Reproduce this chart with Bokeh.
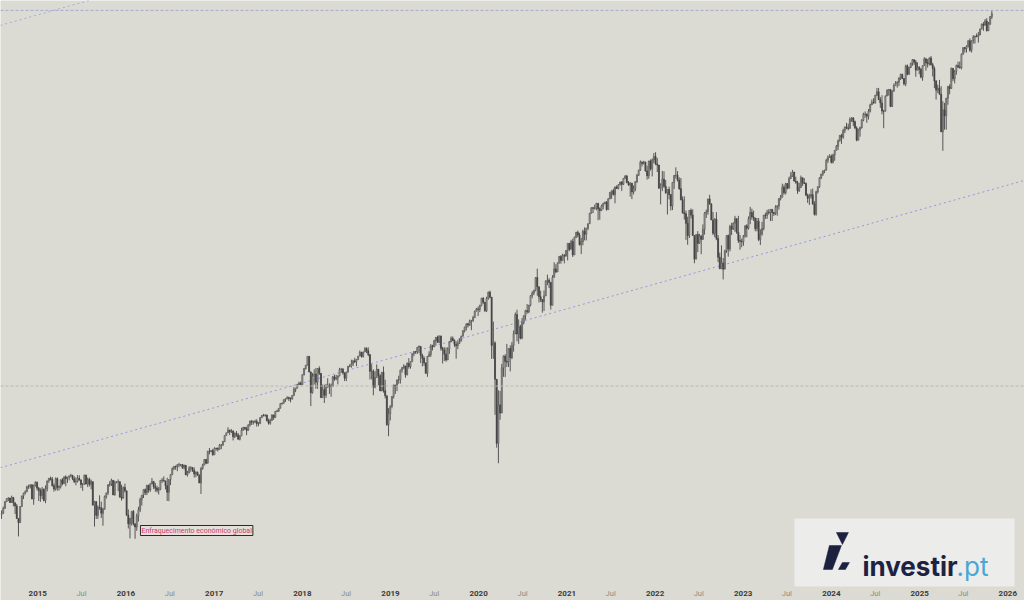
import math
import numpy as np
import pandas as pd
from bokeh.plotting import figure
from bokeh.models import Range1d, Label, Span, ColumnDataSource
from bokeh.core.properties import value
from bokeh.embed import file_html
from bokeh.resources import INLINE

# ---------------- data: S&P 500 weekly candles (week starting Monday) ----------------
first_week = "2014-08-04"
first_open = 1925

close_2014 = [1931, 1955, 1988, 2003, 2007, 1985, 2010, 1982, 1967, 1906, 1886, 1964, 2018, 2032, 2039, 2064, 2067, 2075, 2002, 2070, 2088]
high_2014 = [1945, 1964, 1991, 2005, 2011, 2008, 2019, 2011, 1986, 1977, 1906, 1966, 2018, 2034, 2046, 2071, 2076, 2079, 2077, 2077, 2094]
low_2014 = [1904, 1928, 1953, 1990, 1991, 1982, 1983, 1965, 1927, 1905, 1821, 1885, 1967, 2002, 2025, 2040, 2054, 2056, 2001, 1973, 2066]

close_2015 = [2058, 2044, 2019, 2051, 1995, 2055, 2096, 2110, 2104, 2071, 2053, 2108, 2061, 2067, 2102, 2081, 2117,
              2108, 2116, 2123, 2126, 2107, 2092, 2094, 2110, 2101, 2077, 2077, 2127, 2080, 2104, 2078, 2092, 1971,
              1989, 1921, 1961, 1958, 1931, 1951, 2015, 2033, 2075, 2079, 2099, 2023, 2089, 2090, 2092, 2012, 2006, 2061]
high_2015 = [2093, 2064, 2057, 2064, 2057, 2072, 2097, 2110, 2119, 2117, 2082, 2114, 2114, 2072, 2102, 2111, 2120,
             2126, 2117, 2123, 2134, 2126, 2121, 2115, 2127, 2126, 2103, 2085, 2129, 2129, 2114, 2113, 2103, 2090,
             1993, 1976, 1970, 2021, 1989, 1958, 2020, 2034, 2079, 2094, 2108, 2099, 2097, 2094, 2104, 2081, 2076, 2067]
low_2015 = [2046, 1992, 1988, 2002, 1990, 1981, 2041, 2086, 2098, 2066, 2040, 2045, 2045, 2045, 2056, 2073, 2082,
            2068, 2085, 2099, 2115, 2100, 2085, 2073, 2087, 2097, 2058, 2044, 2077, 2077, 2063, 2067, 2052, 1971,
            1867, 1903, 1904, 1948, 1908, 1871, 1949, 2004, 2023, 2066, 2069, 2022, 2019, 2083, 2042, 2008, 1994, 2005]

close_2016 = [2044, 1922, 1880, 1907, 1940, 1880, 1865, 1918, 1948, 2000, 2022, 2050, 2035, 2073, 2048, 2081, 2092,
              2065, 2057, 2047, 2052, 2099, 2099, 2096, 2071, 2037, 2103, 2130, 2162, 2175, 2173, 2183, 2184, 2184,
              2169, 2180, 2128, 2139, 2165, 2168, 2153, 2133, 2141, 2126, 2085, 2164, 2182, 2213, 2192, 2259, 2258, 2263, 2239]
high_2016 = [2082, 2038, 1950, 1908, 1940, 1947, 1881, 1930, 1963, 2009, 2022, 2052, 2056, 2075, 2075, 2083, 2111,
             2096, 2085, 2071, 2064, 2100, 2111, 2120, 2096, 2113, 2104, 2132, 2169, 2176, 2178, 2187, 2194, 2188,
             2187, 2185, 2182, 2150, 2175, 2175, 2169, 2169, 2148, 2147, 2131, 2170, 2189, 2214, 2214, 2262, 2278, 2267, 2273]
low_2016 = [2035, 1918, 1858, 1812, 1872, 1872, 1810, 1847, 1891, 1937, 1969, 2007, 2022, 2022, 2034, 2039, 2078,
            2053, 2039, 2035, 2025, 2047, 2085, 2092, 2051, 1992, 1991, 2074, 2126, 2154, 2156, 2148, 2169, 2175,
            2160, 2157, 2127, 2119, 2137, 2145, 2144, 2114, 2115, 2125, 2084, 2028, 2156, 2181, 2187, 2191, 2241, 2253, 2234]

close_2017 = [2277, 2275, 2271, 2295, 2297, 2316, 2351, 2367, 2383, 2373, 2378, 2344, 2363, 2355, 2329, 2349, 2384,
              2399, 2391, 2382, 2416, 2439, 2432, 2433, 2438, 2423, 2425, 2459, 2473, 2472, 2477, 2441, 2426, 2443,
              2477, 2461, 2500, 2502, 2519, 2549, 2553, 2575, 2581, 2588, 2582, 2579, 2602, 2642, 2652, 2675, 2684, 2674]
high_2017 = [2282, 2279, 2282, 2301, 2299, 2319, 2352, 2368, 2401, 2386, 2390, 2382, 2370, 2378, 2366, 2352, 2398,
             2404, 2403, 2405, 2418, 2441, 2446, 2441, 2447, 2450, 2433, 2463, 2477, 2484, 2481, 2475, 2454, 2454,
             2480, 2474, 2500, 2509, 2520, 2552, 2555, 2575, 2582, 2597, 2594, 2590, 2605, 2658, 2652, 2680, 2695, 2695]
low_2017 = [2245, 2263, 2258, 2268, 2271, 2289, 2312, 2352, 2367, 2354, 2366, 2322, 2336, 2344, 2328, 2322, 2349,
            2379, 2386, 2353, 2386, 2405, 2415, 2417, 2426, 2405, 2407, 2420, 2459, 2468, 2466, 2437, 2417, 2417,
            2444, 2446, 2459, 2495, 2495, 2520, 2542, 2547, 2560, 2577, 2566, 2557, 2575, 2601, 2624, 2649, 2672, 2673]

close_2018 = [2743, 2786, 2810, 2873, 2762, 2620, 2732, 2747, 2691, 2786, 2752, 2588, 2641, 2604, 2656, 2670, 2670,
              2663, 2728, 2713, 2721, 2735, 2779, 2780, 2755, 2718, 2760, 2801, 2802, 2819, 2840, 2833, 2850, 2875,
              2902, 2872, 2905, 2930, 2914, 2886, 2767, 2768, 2658, 2723, 2781, 2736, 2633, 2760, 2633, 2600, 2417, 2486]
high_2018 = [2743, 2787, 2810, 2873, 2872, 2764, 2754, 2780, 2790, 2786, 2802, 2742, 2675, 2674, 2680, 2718, 2683,
             2682, 2733, 2742, 2742, 2736, 2791, 2790, 2790, 2760, 2764, 2805, 2816, 2849, 2848, 2863, 2854, 2876,
             2916, 2907, 2907, 2941, 2940, 2939, 2881, 2816, 2780, 2766, 2815, 2775, 2747, 2760, 2800, 2708, 2601, 2520]
low_2018 = [2682, 2737, 2779, 2808, 2759, 2533, 2615, 2675, 2647, 2647, 2741, 2586, 2594, 2553, 2586, 2660, 2612,
            2594, 2660, 2701, 2704, 2676, 2731, 2755, 2743, 2699, 2698, 2759, 2795, 2792, 2804, 2826, 2802, 2853,
            2875, 2864, 2864, 2904, 2897, 2874, 2710, 2710, 2603, 2650, 2722, 2670, 2631, 2631, 2621, 2583, 2409, 2347]

close_2019 = [2532, 2596, 2671, 2665, 2707, 2708, 2776, 2793, 2804, 2743, 2822, 2800, 2834, 2893, 2907, 2905, 2940,
              2946, 2881, 2860, 2826, 2752, 2873, 2887, 2950, 2942, 2990, 3014, 2977, 3026, 2932, 2919, 2889, 2847,
              2926, 2979, 3007, 2992, 2962, 2952, 2970, 2986, 3023, 3067, 3093, 3120, 3110, 3141, 3146, 3169, 3221, 3240]
high_2019 = [2538, 2598, 2675, 2674, 2708, 2736, 2776, 2794, 2816, 2804, 2830, 2860, 2837, 2893, 2911, 2909, 2940,
             2954, 2932, 2893, 2873, 2829, 2876, 2910, 2964, 2959, 2996, 3018, 3028, 3028, 3014, 2944, 2940, 2939,
             2940, 2985, 3022, 3022, 2999, 2984, 2993, 3008, 3028, 3067, 3097, 3120, 3127, 3154, 3151, 3183, 3226, 3248]
low_2019 = [2443, 2519, 2582, 2612, 2631, 2681, 2682, 2757, 2782, 2722, 2737, 2785, 2785, 2835, 2874, 2892, 2890,
            2898, 2825, 2801, 2805, 2751, 2728, 2868, 2869, 2916, 2951, 2952, 2975, 2970, 2914, 2822, 2840, 2834,
            2846, 2891, 2979, 2986, 2942, 2856, 2926, 2964, 2990, 3024, 3052, 3067, 3091, 3104, 3070, 3134, 3174, 3223]

close_2020 = [3235, 3265, 3330, 3295, 3226, 3328, 3380, 3338, 2954, 2972, 2711, 2305, 2541, 2489, 2790, 2875, 2837,
              2831, 2930, 2864, 2955, 3044, 3194, 3041, 3098, 3009, 3130, 3185, 3225, 3216, 3271, 3351, 3373, 3397,
              3508, 3427, 3341, 3319, 3298, 3348, 3477, 3484, 3465, 3270, 3509, 3585, 3558, 3638, 3699, 3663, 3709, 3703, 3756]
high_2020 = [3259, 3275, 3330, 3337, 3285, 3341, 3385, 3393, 3259, 3137, 2985, 2711, 2637, 2632, 2819, 2880, 2889,
             2965, 2932, 2954, 2980, 3068, 3211, 3233, 3155, 3113, 3166, 3186, 3233, 3280, 3272, 3352, 3388, 3399,
             3510, 3588, 3425, 3393, 3306, 3395, 3483, 3534, 3502, 3465, 3529, 3646, 3628, 3645, 3705, 3712, 3726, 3723, 3760]
low_2020 = [3182, 3214, 3263, 3281, 3215, 3214, 3315, 3328, 2855, 2855, 2478, 2280, 2192, 2447, 2504, 2728, 2727,
            2797, 2797, 2766, 2853, 2908, 3038, 2984, 2966, 2999, 3001, 3115, 3152, 3200, 3205, 3260, 3328, 3355,
            3387, 3350, 3293, 3297, 3209, 3223, 3354, 3440, 3416, 3234, 3280, 3511, 3546, 3558, 3635, 3633, 3672, 3636, 3700]

close_2021 = [3825, 3768, 3841, 3714, 3887, 3934, 3907, 3811, 3842, 3943, 3913, 3975, 4020, 4129, 4185, 4180, 4181,
              4233, 4174, 4156, 4204, 4230, 4247, 4166, 4281, 4352, 4370, 4327, 4412, 4395, 4437, 4468, 4442, 4509,
              4535, 4459, 4433, 4455, 4357, 4391, 4471, 4545, 4605, 4697, 4683, 4698, 4595, 4538, 4712, 4620, 4725, 4766]
high_2021 = [3826, 3815, 3859, 3870, 3889, 3937, 3950, 3929, 3879, 3960, 3983, 3978, 4021, 4130, 4191, 4195, 4219,
             4238, 4219, 4190, 4219, 4239, 4249, 4257, 4287, 4356, 4372, 4393, 4415, 4430, 4441, 4469, 4478, 4513,
             4546, 4549, 4479, 4466, 4436, 4429, 4476, 4560, 4608, 4719, 4708, 4715, 4705, 4657, 4714, 4731, 4741, 4808]
low_2021 = [3663, 3750, 3768, 3695, 3725, 3875, 3884, 3805, 3723, 3806, 3854, 3853, 3955, 4018, 4124, 4130, 4167,
            4159, 4056, 4061, 4154, 4168, 4224, 4156, 4164, 4278, 4281, 4318, 4233, 4390, 4385, 4429, 4368, 4433,
            4500, 4456, 4427, 4305, 4278, 4330, 4365, 4456, 4537, 4595, 4647, 4670, 4586, 4495, 4504, 4599, 4531, 4685]

close_2022 = [4677, 4663, 4398, 4432, 4501, 4419, 4349, 4385, 4329, 4204, 4463, 4543, 4546, 4488, 4393, 4272, 4132,
              4123, 4024, 3901, 4158, 4109, 3901, 3675, 3912, 3825, 3899, 3863, 3962, 4130, 4145, 4280, 4228, 4058,
              3924, 4067, 3873, 3693, 3586, 3640, 3583, 3753, 3901, 3771, 3993, 3965, 4026, 4072, 3934, 3852, 3845, 3840]
high_2022 = [4818, 4749, 4665, 4453, 4595, 4590, 4490, 4385, 4416, 4299, 4465, 4546, 4637, 4593, 4521, 4513, 4308,
             4308, 4156, 4091, 4158, 4178, 4169, 3838, 3913, 3946, 3918, 3882, 4013, 4140, 4167, 4281, 4325, 4203,
             4141, 4077, 4139, 3906, 3736, 3806, 3686, 3764, 3907, 3912, 4009, 4028, 4034, 4101, 4051, 4101, 3906, 3872]
low_2022 = [4662, 4582, 4395, 4222, 4366, 4401, 4335, 4115, 4275, 4157, 4161, 4390, 4507, 4474, 4381, 4265, 4124,
            4062, 3859, 3811, 3877, 4074, 3900, 3637, 3718, 3741, 3820, 3721, 3904, 3911, 4079, 4112, 4218, 4057,
            3906, 3886, 3856, 3647, 3585, 3585, 3491, 3590, 3734, 3698, 3748, 3906, 3956, 3939, 3918, 3828, 3764, 3788]

close_2023 = [3895, 3999, 3973, 4071, 4136, 4090, 4079, 3970, 4046, 3862, 3917, 3971, 4109, 4105, 4138, 4133, 4169,
              4136, 4124, 4192, 4205, 4282, 4299, 4410, 4348, 4450, 4399, 4505, 4536, 4582, 4478, 4464, 4370, 4406,
              4516, 4457, 4450, 4320, 4288, 4309, 4327, 4224, 4117, 4358, 4415, 4514, 4559, 4595, 4604, 4719, 4755, 4770]
high_2023 = [3907, 4003, 4015, 4095, 4195, 4176, 4156, 4048, 4079, 4079, 3964, 4039, 4110, 4133, 4164, 4170, 4170,
             4148, 4143, 4213, 4213, 4290, 4323, 4449, 4437, 4458, 4456, 4528, 4579, 4607, 4584, 4528, 4480, 4458,
             4541, 4518, 4512, 4465, 4339, 4336, 4386, 4394, 4256, 4370, 4418, 4522, 4560, 4599, 4609, 4739, 4778, 4793]
low_2023 = [3802, 3880, 3885, 3961, 4015, 4060, 4048, 3944, 3943, 3847, 3809, 3900, 3953, 4069, 4069, 4114, 4047,
            4048, 4099, 4109, 4103, 4166, 4264, 4302, 4328, 4328, 4385, 4393, 4514, 4527, 4474, 4448, 4335, 4356,
            4403, 4424, 4446, 4316, 4238, 4216, 4283, 4223, 4104, 4103, 4340, 4402, 4500, 4537, 4568, 4599, 4688, 4751]

close_2024 = [4697, 4784, 4840, 4891, 4959, 5027, 5006, 5089, 5137, 5124, 5117, 5234, 5254, 5204, 5123, 4967, 5100,
              5128, 5223, 5303, 5305, 5278, 5347, 5431, 5465, 5460, 5567, 5615, 5505, 5459, 5347, 5344, 5554, 5634,
              5648, 5408, 5626, 5703, 5738, 5751, 5815, 5865, 5808, 5729, 5995, 5870, 5969, 6032, 6090, 6051, 5931, 5971]
high_2024 = [4791, 4799, 4842, 4907, 4975, 5030, 5048, 5111, 5140, 5190, 5179, 5262, 5265, 5264, 5220, 5145, 5114,
             5139, 5239, 5325, 5342, 5315, 5375, 5447, 5506, 5524, 5570, 5670, 5669, 5541, 5566, 5364, 5564, 5651,
             5651, 5651, 5636, 5733, 5767, 5767, 5822, 5879, 5879, 5810, 6012, 6017, 5985, 6044, 6100, 6093, 6085, 6049]
low_2024 = [4682, 4682, 4714, 4845, 4845, 4949, 4920, 4983, 5057, 5107, 5092, 5164, 5204, 5146, 5107, 4953, 4968,
            5011, 5114, 5211, 5257, 5191, 5234, 5328, 5432, 5447, 5448, 5552, 5497, 5391, 5303, 5120, 5345, 5561,
            5560, 5403, 5406, 5615, 5704, 5674, 5696, 5784, 5797, 5706, 5696, 5853, 5861, 5963, 5996, 6010, 5832, 5933]

close_2025 = [5942, 5827, 5997, 6101, 6041, 6026, 6115, 6013, 5955, 5770, 5639, 5668, 5581, 5074, 5363, 5283, 5525,
              5687, 5660, 5958, 5803, 5912, 6000, 5977, 5968, 6173, 6279, 6260, 6297, 6389, 6238, 6389, 6450, 6467,
              6460, 6482, 6584, 6664, 6644, 6716, 6553, 6664, 6792, 6840]
high_2025 = [5993, 5964, 6003, 6128, 6120, 6101, 6127, 6147, 6043, 5987, 5783, 5716, 5786, 5695, 5482, 5460, 5528,
             5700, 5721, 5969, 5943, 5935, 6016, 6060, 6060, 6187, 6284, 6290, 6316, 6395, 6427, 6395, 6481, 6467,
             6508, 6533, 6585, 6672, 6700, 6750, 6765, 6700, 6801, 6890]
low_2025 = [5870, 5809, 5773, 6003, 5923, 5970, 6000, 6000, 5837, 5667, 5505, 5597, 5572, 5069, 4835, 5101, 5101,
            5433, 5579, 5724, 5768, 5735, 5863, 5963, 5953, 5943, 6180, 6202, 6201, 6282, 6212, 6202, 6343, 6343,
            6444, 6360, 6482, 6575, 6551, 6643, 6541, 6550, 6650, 6750]

year_labels = ["2015", "2016", "2017", "2018", "2019", "2020", "2021", "2022", "2023", "2024", "2025", "2026"]
mid_label = "Jul"

resistance_level = 6900          # horizontal dashed line (top)
support_level = 2665             # horizontal dashed line (middle)
channel_dates = ["2014-07-30", "2026-03-10"]
channel_low = [2167, 4485]       # lower dotted trend line
channel_high = [6643, 13750]     # upper parallel dotted trend line

annotation_text = "Enfraquecimento económico global"

# ---------------- assemble ----------------
closes = np.array(close_2014 + close_2015 + close_2016 + close_2017 + close_2018 + close_2019 +
                  close_2020 + close_2021 + close_2022 + close_2023 + close_2024 + close_2025, dtype=float)
highs = np.array(high_2014 + high_2015 + high_2016 + high_2017 + high_2018 + high_2019 +
                 high_2020 + high_2021 + high_2022 + high_2023 + high_2024 + high_2025, dtype=float)
lows = np.array(low_2014 + low_2015 + low_2016 + low_2017 + low_2018 + low_2019 +
                low_2020 + low_2021 + low_2022 + low_2023 + low_2024 + low_2025, dtype=float)
opens = np.concatenate([[first_open], closes[:-1]])
highs = np.maximum(highs, np.maximum(opens, closes))
lows = np.minimum(lows, np.minimum(opens, closes))
dates = pd.date_range(first_week, periods=len(closes), freq="7D")

up = closes >= opens
src_up = ColumnDataSource(dict(x=dates[up], o=opens[up], c=closes[up], h=highs[up], l=lows[up]))
src_dn = ColumnDataSource(dict(x=dates[~up], o=opens[~up], c=closes[~up], h=highs[~up], l=lows[~up]))

# ---------------- layout helpers (canvas pixel -> data) ----------------
BG = "#dcdbd3"
W, H = 1024, 600
X0_PX, PX_PER_YEAR = 37.3, 88.18      # x pixel of 1 Jan 2015, pixels per year
Y_A, Y_B = 3500.5, 394.9              # y pixel = Y_A - Y_B * ln(price)


def year_to_ms(fy):
    y = int(math.floor(fy))
    a = pd.Timestamp(year=y, month=1, day=1)
    b = pd.Timestamp(year=y + 1, month=1, day=1)
    return (a + (b - a) * (fy - y)).value / 1e6


def px_to_ms(px):
    return year_to_ms(2015 + (px - X0_PX) / PX_PER_YEAR)


def py_to_price(py):
    return math.exp((Y_A - py) / Y_B)


p = figure(width=W, height=H, output_backend="svg", toolbar_location=None,
           x_axis_type="datetime", y_axis_type="log",
           x_axis_location=None, y_axis_location=None,
           x_range=Range1d(px_to_ms(0), px_to_ms(W)),
           y_range=Range1d(py_to_price(H), py_to_price(0)),
           min_border=0, min_border_left=0, min_border_right=0,
           min_border_top=0, min_border_bottom=0)
p.background_fill_color = BG
p.border_fill_color = BG
p.outline_line_color = None
p.grid.visible = False

# reference lines
p.add_layout(Span(location=resistance_level, dimension="width", line_color="#a2a8d0",
                  line_dash="3 2", line_width=1))
p.add_layout(Span(location=support_level, dimension="width", line_color="#b8b8b4",
                  line_dash="3 2", line_width=1))
ch_x = pd.to_datetime(channel_dates)
p.line(ch_x, channel_low, line_color="#8f98e0", line_dash="2 3", line_width=1)
p.line(ch_x, channel_high, line_color="#a3a9dc", line_dash="2 3", line_width=1)

# candles
week_ms = 7 * 24 * 3600 * 1000
for src, fill, line in ((src_up, "#c2c2bd", "#555555"), (src_dn, "#454545", "#454545")):
    p.segment(x0="x", y0="h", x1="x", y1="l", source=src, line_color="#555555", line_width=1)
    p.vbar(x="x", top="o", bottom="c", width=week_ms * 0.6, source=src,
           fill_color=fill, line_color=line, line_width=0.7)

# time labels along the bottom
year_x = [pd.Timestamp(f"{y}-01-01") for y in year_labels]
jul_x = [pd.Timestamp(f"{y}-07-01") for y in year_labels[:-1]]
lab_y = py_to_price(593)
p.text(x=year_x, y=[lab_y] * len(year_x), text=year_labels, text_font=value("Roboto"),
       text_font_style="bold", text_font_size="8px", text_color="#3a3a3a",
       text_align="center", text_baseline="middle")
p.text(x=jul_x, y=[lab_y] * len(jul_x), text=[mid_label] * len(jul_x), text_font=value("Roboto"),
       text_font_size="7.5px", text_color="#8a8a88",
       text_align="center", text_baseline="middle")

# annotation box
p.add_layout(Label(x=px_to_ms(140), y=py_to_price(530), text=annotation_text,
                   text_font="Roboto", text_font_size="7px", text_color="#d2386c",
                   text_baseline="middle", border_line_color="#2a2a2a", border_line_width=1,
                   background_fill_color="#e2e0d9", background_fill_alpha=1.0, padding=1))

# logo panel (drawn as glyphs so the icon sits on top of it)
p.quad(left=[px_to_ms(794)], right=[px_to_ms(1014)], top=[py_to_price(518)], bottom=[py_to_price(586)],
       fill_color="#ececea", line_color=None)
icon_parts = [
    [(823, 569), (832, 569), (841, 545), (829, 545)],
    [(836, 532), (848, 532), (842, 544)],
    [(838, 569), (845, 569), (849, 562), (842, 562)],
]
p.patches([[px_to_ms(a) for a, b in part] for part in icon_parts],
          [[py_to_price(b) for a, b in part] for part in icon_parts],
          fill_color="#1c2140", line_color="#1c2140", line_width=0.5)
p.add_layout(Label(x=px_to_ms(862), y=py_to_price(566), text="investir",
                   text_font="Inter", text_font_style="bold", text_font_size="26px",
                   text_color="#1d2243", text_baseline="alphabetic"))
p.add_layout(Label(x=px_to_ms(956), y=py_to_price(566), text=".pt",
                   text_font="Inter", text_font_size="26px",
                   text_color="#4aa6d6", text_baseline="alphabetic"))

html = file_html(p, INLINE, title="S&P 500")
html = html.replace("<body>", '<body style="background-color:%s;">' % BG, 1)
open("out.html", "w").write(html)
